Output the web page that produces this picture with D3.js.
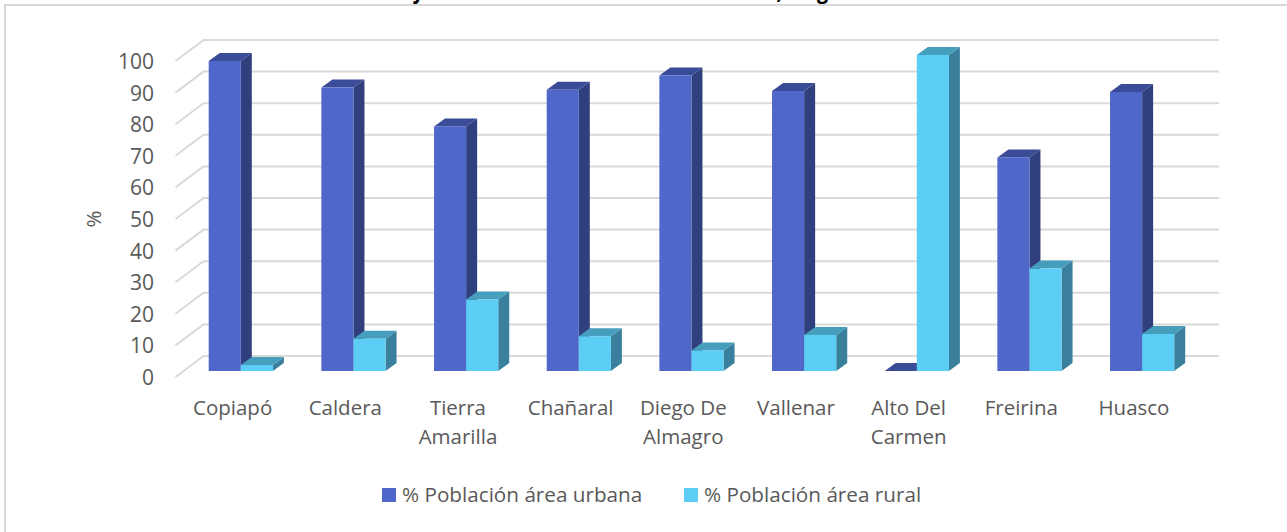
<!DOCTYPE html>
<html><head><meta charset="utf-8">
<script src="https://cdn.jsdelivr.net/npm/d3@7"></script>
<style>html,body{margin:0;padding:0;background:#fff}svg{display:block}text{font-family:"Open Sans","Noto Sans",sans-serif}</style>
</head><body><svg id="c" width="1287" height="532"></svg>
<script>
const categories=[["Copiapó"],["Caldera"],["Tierra","Amarilla"],["Chañaral"],["Diego De","Almagro"],["Vallenar"],["Alto Del","Carmen"],["Freirina"],["Huasco"]];
const urbana=[98.1,89.7,77.4,89,93.5,88.6,0,67.6,88.3];
const rural=[1.9,10.2,22.6,11,6.5,11.4,100,32.4,11.7];
const yTicks=[0,10,20,30,40,50,60,70,80,90,100];
const seriesNames=["% Población área urbana","% Población área rural"];
const palette=[{f:"#4f67c8",s:"#303f7d",t:"#3a4c98"},{f:"#5ccdf5",s:"#3a809c",t:"#469ebd"}];

const svg=d3.select("#c");
const W=1287,H=532;
svg.append("path").attr("d",`M5 ${H}V5H${W}`).attr("fill","none").attr("stroke","#d9d9d9").attr("stroke-width",2);
const cp=svg.append("clipPath").attr("id","tc");cp.append("rect").attr("x",0).attr("y",0).attr("width",W).attr("height",4);
const titleFrag=[["j",419],[",",781],["g",824]];
svg.append("g").attr("clip-path","url(#tc)").selectAll("text").data(titleFrag).join("text")
 .attr("x",d=>d[1]).attr("y",-1).attr("text-anchor","middle")
 .attr("font-size",21).attr("font-weight",700).attr("font-style","italic").attr("fill","#000").text(d=>d[0]);

const y=d3.scaleLinear().domain([0,100]).range([0,316]);
const x=d3.scaleBand().domain(d3.range(categories.length)).range([175,1189]);
const floorFront=377,depthX=28,depthY=21;
const gY=v=>floorFront-y(v);
const grid=svg.append("g").attr("stroke","#d9d9d9").attr("stroke-width",2).attr("fill","none");
grid.selectAll("path").data(yTicks).join("path")
 .attr("d",v=>`M175.5 ${gY(v)}L${175.5+depthX} ${gY(v)-depthY}H1219`);

const ax=svg.append("g").attr("font-size",21).attr("fill","#595959");
ax.selectAll("text").data(yTicks).join("text")
 .attr("x",154).attr("y",v=>gY(v)+8).attr("text-anchor","end").text(d=>d);
svg.append("text").attr("transform","translate(100.5,219) rotate(-90)").attr("text-anchor","middle")
 .attr("font-size",20.5).attr("fill","#595959").text("%");

const base=371,bw=32.1,dx=11,dy=8;
const barX=(i,k)=>x(i)+33.7+k*bw;
function bar(g,i,k,v){
 const x0=barX(i,k),x1=x0+bw,yt=base-y(v),c=palette[k];
 const pts=a=>a.map(p=>p.join(",")).join(" ");
 if(v>0){
  g.append("polygon").attr("points",pts([[x1,base],[x1+dx,base-dy],[x1+dx,yt-dy],[x1,yt]])).attr("fill",c.s);
 }
 g.append("polygon").attr("points",pts([[x0,yt],[x0+dx,yt-dy],[x1+dx,yt-dy],[x1,yt]])).attr("fill",c.t);
 if(v>0) g.append("rect").attr("x",x0).attr("y",yt).attr("width",bw).attr("height",y(v)).attr("fill",c.f);
}
const bars=svg.append("g");
categories.forEach((_,i)=>{
 const g=bars.append("g");
 bar(g,i,0,urbana[i]);
 bar(g,i,1,rural[i]);
});

const lab=svg.append("g").attr("font-size",20.5).attr("fill","#595959").attr("text-anchor","middle");
categories.forEach((lines,i)=>{
 lines.forEach((t,j)=>lab.append("text").attr("x",x(i)+x.bandwidth()/2+1.3).attr("y",415+j*29).text(t));
});

const leg=svg.append("g").attr("font-size",20.7).attr("fill","#595959");
[[382,402],[684,704]].forEach((p,i)=>{
 leg.append("rect").attr("x",p[0]).attr("y",488).attr("width",14).attr("height",14).attr("fill",palette[i].f);
 leg.append("text").attr("x",p[1]).attr("y",502).text(seriesNames[i]);
});
</script></body></html>
